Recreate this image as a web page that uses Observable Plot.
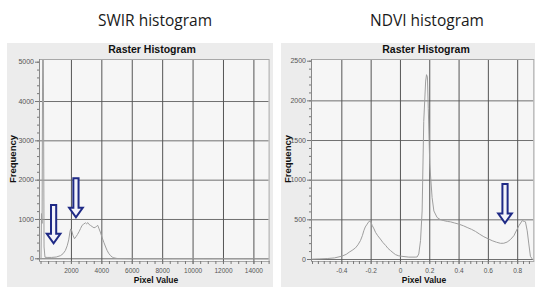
<!DOCTYPE html>
<html>
<head>
<meta charset="utf-8">
<script src="https://cdn.jsdelivr.net/npm/d3@7"></script>
<script src="https://cdn.jsdelivr.net/npm/@observablehq/plot@0.6"></script>
<style>
  html, body { margin: 0; padding: 0; background: #fff; }
  #root { position: relative; width: 535px; height: 287px; overflow: hidden; background: #fff; font-family: "Liberation Sans", Arial, sans-serif; }
  .title { position: absolute; top: 12px; font-family: "Open Sans", sans-serif; font-size: 15.5px; line-height: 16px; color: #1a1a1a; white-space: nowrap; transform: translateX(-50%); }
  .panel { position: absolute; top: 43px; height: 244px; background: #ececec; }
  .ptitle { position: absolute; top: 43px; font-size: 10.5px; line-height: 12px; font-weight: bold; color: #111; white-space: nowrap; transform: translateX(-50%); }
  .xlabel { position: absolute; top: 275px; font-size: 8.5px; line-height: 10px; font-weight: bold; color: #111; white-space: nowrap; transform: translateX(-50%); }
  .ylabel { position: absolute; top: 159px; font-size: 9.5px; line-height: 10px; font-weight: bold; color: #111; white-space: nowrap; transform: translate(-50%, -50%) rotate(-90deg); }
  .chart { position: absolute; top: 55px; }
</style>
</head>
<body>
<div id="root">
  <div class="panel" style="left:7px;width:266px;"></div>
  <div class="panel" style="left:281px;width:254px;"></div>
  <div class="title" style="left:155px;">SWIR histogram</div>
  <div class="title" style="left:427px;">NDVI histogram</div>
  <div class="ptitle" style="left:152px;">Raster Histogram</div>
  <div class="ptitle" style="left:426px;">Raster Histogram</div>
  <div class="xlabel" style="left:156px;">Pixel Value</div>
  <div class="xlabel" style="left:424px;">Pixel Value</div>
  <div class="ylabel" style="left:13px;">Frequency</div>
  <div class="ylabel" style="left:288px;">Frequency</div>
  <div class="chart" id="swir" style="left:7px;"></div>
  <div class="chart" id="ndvi" style="left:281px;"></div>
</div>
<script>
// ---- SWIR histogram data (pixel value, frequency) ----
const swirPixel = [0, 30, 70, 110, 150, 200, 260, 400, 700, 1000, 1280, 1450, 1600, 1720, 1820, 1900, 1950, 2000, 2100, 2200, 2300, 2400, 2500, 2600, 2700, 2800, 2920, 3000, 3080, 3140, 3250, 3360, 3480, 3580, 3680, 3730, 3800, 3900, 4000, 4130, 4250, 4350, 4450, 4570, 4700, 4790, 5000, 6000, 15000];
const swirFreq  = [0, 1150, 900, 5600, 5600, 300, 40, 35, 35, 45, 80, 130, 210, 330, 480, 680, 760, 740, 600, 510, 560, 620, 690, 770, 850, 880, 915, 890, 920, 880, 850, 820, 790, 800, 840, 850, 780, 680, 560, 420, 300, 210, 140, 80, 40, 25, 8, 2, 0];
const swirXTicks = [2000, 4000, 6000, 8000, 10000, 12000, 14000];
const swirYTicks = [0, 1000, 2000, 3000, 4000, 5000];
const swirArrowX = [860, 2330];
const swirArrowTop = [1356, 2035];
const swirArrowTip = [382, 1043];

// ---- NDVI histogram data (pixel value, frequency) ----
const ndviPixel = [-0.6, -0.55, -0.5, -0.45, -0.4, -0.37, -0.35, -0.33, -0.307, -0.29, -0.273, -0.26, -0.25, -0.24, -0.227, -0.215, -0.205, -0.193, -0.18, -0.17, -0.155, -0.137, -0.12, -0.1, -0.085, -0.068, -0.05, -0.034, -0.015, 0.01, 0.057, 0.1, 0.114, 0.125, 0.137, 0.148, 0.159, 0.172, 0.178, 0.184, 0.19, 0.2, 0.216, 0.228, 0.25, 0.27, 0.296, 0.32, 0.341, 0.37, 0.398, 0.43, 0.455, 0.485, 0.512, 0.54, 0.569, 0.6, 0.626, 0.655, 0.683, 0.705, 0.728, 0.75, 0.774, 0.79, 0.808, 0.831, 0.845, 0.853, 0.865, 0.876, 0.887, 0.9];
const ndviFreq  = [5, 8, 12, 20, 42, 65, 92, 115, 146, 185, 238, 300, 363, 410, 446, 480, 485, 430, 385, 342, 300, 258, 215, 175, 140, 113, 85, 62, 48, 40, 30, 30, 32, 70, 237, 612, 1740, 2250, 2330, 2300, 1900, 1200, 780, 612, 530, 505, 490, 480, 475, 460, 446, 425, 404, 380, 354, 320, 287, 260, 237, 218, 204, 205, 220, 250, 300, 360, 425, 490, 480, 475, 362, 196, 40, 5];
const ndviXTicks = [-0.4, -0.2, 0, 0.2, 0.4, 0.6, 0.8];
const ndviXLabels = ["-0.4", "-0.2", "0", "0.2", "0.4", "0.6", "0.8"];
const ndviYTicks = [0, 500, 1000, 1500, 2000, 2500];
const ndviArrowX = [0.717];
const ndviArrowTop = [946];
const ndviArrowTip = [454];

function arrows(xs, tops, tips) {
  const idx = xs.map((_, i) => i);
  return Plot.dot(idx, {
    x: i => xs[i], y: i => tops[i],
    render(index, scales) {
      const g = d3.create("svg:g");
      for (const i of index) {
        const cx = scales.x(xs[i]), y0 = scales.y(tops[i]), y1 = scales.y(tips[i]);
        const bw = 2.6, hw = 6.8, hl = 9.5;
        const d = `M${cx - bw},${y0}H${cx + bw}V${y1 - hl}H${cx + hw}L${cx},${y1}L${cx - hw},${y1 - hl}H${cx - bw}Z`;
        g.append("path").attr("d", d)
          .attr("fill", "#f3f3fa").attr("stroke", "#1f2a86")
          .attr("stroke-width", 2).attr("stroke-linejoin", "miter");
      }
      return g.node();
    }
  });
}

function histogram({xs, ys, xDomain, yDomain, yRange, width, marginLeft, marginRight, xTicks, xFormat, xMinor, yTicks, yMinor, arrowMark}) {
  return Plot.plot({
    width, height: 232,
    marginLeft, marginRight, marginTop: 4, marginBottom: 26,
    x: {domain: xDomain},
    y: {domain: yDomain, range: yRange},
    style: {background: "transparent", fontFamily: "'Liberation Sans', Arial, sans-serif", overflow: "visible"},
    marks: [
      Plot.frame({fill: "#f6f6f6", stroke: null}),
      Plot.ruleY(yTicks.slice(0, -1), {stroke: "#707070", strokeWidth: 1}),
      Plot.ruleX(xTicks, {stroke: "#555", strokeWidth: 1}),
      Plot.line(xs, {x: xs, y: ys, stroke: "#9e9e9e", strokeWidth: 1, clip: true}),
      arrowMark,
      Plot.frame({stroke: "#a8a8a8"}),
      Plot.axisX(xMinor, {tickSize: 3, tickFormat: () => "", stroke: "#777", label: null}),
      Plot.axisX(xTicks, {tickSize: 3, tickPadding: 4, tickFormat: xFormat, fontSize: 6.5, fill: "#555", stroke: "#777", label: null}),
      Plot.axisY(yMinor, {tickSize: 2, tickFormat: () => "", stroke: "#777", label: null}),
      Plot.axisY(yTicks, {tickSize: 4, tickPadding: 1.5, tickFormat: d => String(d), fontSize: 7, fill: "#555", stroke: "#777", label: null}),
      Plot.ruleX([xDomain[0]], {stroke: "#888"})
    ]
  });
}

document.getElementById("swir").append(histogram({
  xs: swirPixel, ys: swirFreq,
  xDomain: [-100, 15000], yDomain: [0, 5000], yRange: [203.3, 6.7],
  width: 266, marginLeft: 32, marginRight: 4.4,
  xTicks: swirXTicks, xFormat: d => String(d),
  xMinor: d3.range(0, 15001, 500),
  yTicks: swirYTicks, yMinor: d3.range(0, 5001, 200),
  arrowMark: arrows(swirArrowX, swirArrowTop, swirArrowTip)
}));

document.getElementById("ndvi").append(histogram({
  xs: ndviPixel, ys: ndviFreq,
  xDomain: [-0.607, 0.91], yDomain: [0, 2500], yRange: [204, 5.7],
  width: 254, marginLeft: 30, marginRight: 1.7,
  xTicks: ndviXTicks, xFormat: (d, i) => ndviXLabels[i],
  xMinor: d3.range(-0.6, 0.91, 0.04),
  yTicks: ndviYTicks, yMinor: d3.range(0, 2501, 100),
  arrowMark: arrows(ndviArrowX, ndviArrowTop, ndviArrowTip)
}));
</script>
</body>
</html>
